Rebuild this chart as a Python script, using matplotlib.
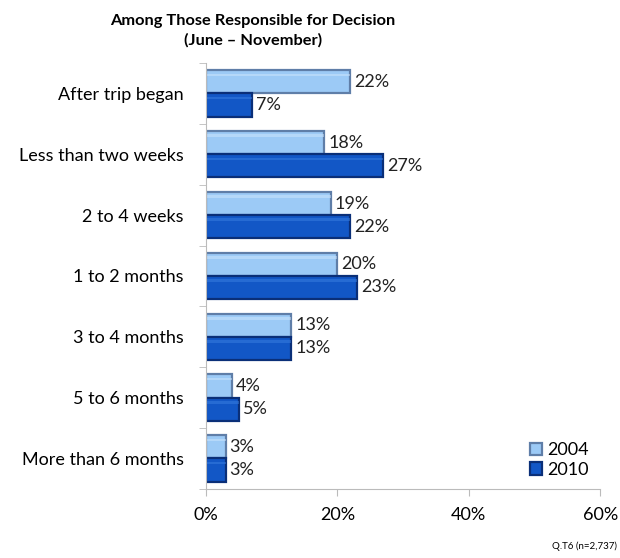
import numpy as np
import matplotlib.pyplot as plt

plt.rcParams['font.family'] = ['Lato', 'DejaVu Sans']

categories = ["After trip began", "Less than two weeks", "2 to 4 weeks",
              "1 to 2 months", "3 to 4 months", "5 to 6 months",
              "More than 6 months"]
vals_2004 = [22, 18, 19, 20, 13, 4, 3]
vals_2010 = [7, 27, 22, 23, 13, 5, 3]
years = ["2004", "2010"]

light, light_edge = "#9ccaf6", "#5f7ea8"
dark, dark_edge = "#1257c6", "#0a2f78"

fig = plt.figure(figsize=(6.2, 5.58), dpi=100)
ax = fig.add_axes([0.332, 0.124, 0.636, 0.763])

y = np.arange(len(categories))
h = 0.38
b1 = ax.barh(y - h / 2, vals_2004, height=h, color=light, edgecolor=light_edge,
             linewidth=1.6, label=years[0])
b2 = ax.barh(y + h / 2, vals_2010, height=h, color=dark, edgecolor=dark_edge,
             linewidth=1.6, label=years[1])

# soft top highlight for the bevelled look
ax.barh(y - h / 2 - h * 0.30, vals_2004, height=h * 0.12, color="#cfe6fc",
        linewidth=0, alpha=0.5)
ax.barh(y + h / 2 - h * 0.30, vals_2010, height=h * 0.12, color="#3b7fe0",
        linewidth=0, alpha=0.5)

for bars, vals in ((b1, vals_2004), (b2, vals_2010)):
    for rect, v in zip(bars, vals):
        ax.text(v + 0.6, rect.get_y() + rect.get_height() / 2, f"{v}%",
                va="center", ha="left", fontsize=13, color="#222222")

ax.set_xlim(0, 60)
ax.set_ylim(len(categories) - 0.5, -0.5)
ax.set_xticks([0, 20, 40, 60])
ax.set_xticklabels(["0%", "20%", "40%", "60%"], fontsize=13)
ax.set_yticks(y)
ax.set_yticklabels(categories, fontsize=13)
ax.tick_params(axis="y", length=0, pad=16)
ax.set_yticks(np.arange(len(categories) + 1) - 0.5, minor=True)
ax.tick_params(axis="y", which="minor", length=5, color="#bbbbbb")
ax.tick_params(axis="x", length=5, color="#bbbbbb", pad=8)

for side in ("top", "right"):
    ax.spines[side].set_visible(False)
ax.spines["left"].set_color("#bbbbbb")
ax.spines["bottom"].set_color("#bbbbbb")

ax.legend(handles=[b1, b2], loc="lower right", frameon=False, fontsize=13,
          handlelength=0.7, handleheight=0.7, handletextpad=0.3,
          borderaxespad=0.2, labelspacing=0.2)

fig.text(0.408, 0.945, "Among Those Responsible for Decision\n(June \u2013 November)",
         ha="center", va="center", fontsize=11.8, fontweight="bold",
         linespacing=1.5)
fig.text(0.995, 0.012, "Q.T6 (n=2,737)", ha="right", va="bottom", fontsize=7)

fig.savefig("out.png", dpi=100)
